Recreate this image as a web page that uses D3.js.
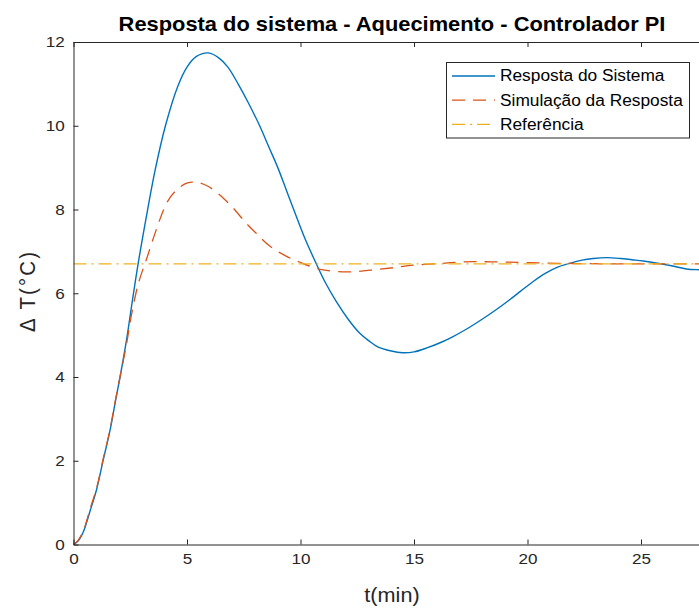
<!DOCTYPE html>
<html>
<head>
<meta charset="utf-8">
<script src="https://cdn.jsdelivr.net/npm/d3@7"></script>
<style>
  html, body { margin: 0; padding: 0; background: #fff; overflow: hidden; }
  svg { display: block; font-family: "Liberation Sans", Arial, sans-serif; }
</style>
</head>
<body>
<svg id="chart" width="699" height="608"></svg>
<script>
// Measured response (minutes, °C rise)
const tempoResposta = [0, 0.2, 0.43, 0.73, 1.02, 1.31, 1.61, 1.83, 2.05, 2.34, 2.56, 2.83, 3.25, 3.6, 4.05, 4.6, 5.0, 5.4, 5.94, 6.4, 6.8, 7.25, 7.7, 8.2, 8.6, 9.0, 9.35, 9.7, 10.2, 10.7, 11.1, 11.6, 12.1, 12.6, 13.0, 13.4, 14.0, 14.5, 15.0, 15.6, 16.2, 16.7, 17.3, 18.0, 18.6, 19.2, 19.7, 20.25, 20.8, 21.3, 21.9, 22.4, 22.9, 23.5, 24.1, 24.6, 25.1, 25.8, 26.4, 27.0, 27.6, 28.0];
const valorResposta = [0, 0.08, 0.3, 0.8, 1.32, 2.02, 2.73, 3.37, 4.0, 4.9, 5.7, 6.65, 7.95, 8.95, 10.0, 10.95, 11.4, 11.65, 11.74, 11.62, 11.4, 11.0, 10.55, 10.0, 9.5, 9.0, 8.5, 8.0, 7.3, 6.7, 6.25, 5.78, 5.38, 5.05, 4.87, 4.72, 4.62, 4.58, 4.6, 4.7, 4.83, 4.96, 5.14, 5.38, 5.6, 5.84, 6.05, 6.28, 6.48, 6.62, 6.72, 6.79, 6.83, 6.85, 6.83, 6.8, 6.77, 6.71, 6.65, 6.58, 6.56, 6.55];

// Simulated response
const tempoSimulacao = [0, 0.2, 0.43, 0.73, 1.02, 1.31, 1.61, 1.83, 2.05, 2.34, 2.56, 2.86, 3.15, 3.3, 3.59, 4.1, 4.47, 4.99, 5.43, 5.94, 6.6, 7.04, 7.63, 8.07, 8.66, 9.39, 9.98, 10.5, 11.0, 12.04, 13.06, 14.09, 14.97, 16.15, 17.17, 18.5, 20.0, 22.0, 24.0, 26.0, 28.0];
const valorSimulacao = [0, 0.1, 0.32, 0.85, 1.35, 2.05, 2.75, 3.4, 4.0, 4.8, 5.5, 6.24, 6.71, 6.95, 7.43, 8.15, 8.43, 8.63, 8.65, 8.55, 8.27, 8.03, 7.66, 7.42, 7.12, 6.88, 6.74, 6.63, 6.56, 6.51, 6.55, 6.61, 6.67, 6.71, 6.75, 6.75, 6.73, 6.71, 6.7, 6.7, 6.7];

// Set-point
const tempoReferencia = [0, 30];
const valorReferencia = [6.7, 6.7];

const xTicks = [0, 5, 10, 15, 20, 25, 30];
const xTickLabels = [0, 5, 10, 15, 20, 25];
const yTicks = [0, 2, 4, 6, 8, 10, 12];

const legendLabels = ["Resposta do Sistema", "Simulação da Resposta", "Referência"];

const axisColor = "#262626";
const stretch = 1.11; // horizontal text aspect of the figure

const svg = d3.select("#chart");

const x = d3.scaleLinear().domain([0, 30]).range([73.5, 754.5]);
const y = d3.scaleLinear().domain([0, 12]).range([544.5, 42]);

const series = [
  { t: tempoResposta, v: valorResposta, color: "#0072BD", dash: null, width: 1.4 },
  { t: tempoSimulacao, v: valorSimulacao, color: "#D95319", dash: "13,8", width: 1.3 },
  { t: tempoReferencia, v: valorReferencia, color: "#EDB120", dash: "13,5,2,5", width: 1.3 }
];

// Plot area
const plot = svg.append("g");
plot.append("rect")
  .attr("x", x(0)).attr("y", y(12))
  .attr("width", x(30) - x(0)).attr("height", y(0) - y(12))
  .attr("fill", "#fff");

const line = d3.line()
  .x(d => x(d[0]))
  .y(d => y(d[1]))
  .curve(d3.curveCatmullRom.alpha(0.5));

series.forEach(s => {
  const pts = s.t.map((t, i) => [t, s.v[i]]);
  plot.append("path")
    .datum(pts)
    .attr("fill", "none")
    .attr("stroke", s.color)
    .attr("stroke-width", s.width)
    .attr("stroke-dasharray", s.dash)
    .attr("d", line);
});

// Axes (inward ticks, box)
function styleAxis(g) {
  g.selectAll("path, line").attr("stroke", axisColor).attr("stroke-width", 1);
  g.selectAll("text")
    .attr("fill", axisColor)
    .attr("font-size", 15.4)
    .attr("font-family", "Liberation Sans, Arial, sans-serif");
}

const gx = svg.append("g")
  .attr("transform", `translate(0,${y(0)})`)
  .call(d3.axisBottom(x).tickValues(xTicks).tickSizeInner(-5).tickSizeOuter(0).tickPadding(9)
    .tickFormat(d => xTickLabels.includes(d) ? d3.format("d")(d) : ""))
  .call(styleAxis);
gx.selectAll("text").attr("transform", `scale(${stretch},1)`);

const gy = svg.append("g")
  .attr("transform", `translate(${x(0)},0)`)
  .call(d3.axisLeft(y).tickValues(yTicks).tickSizeInner(-5).tickSizeOuter(0).tickPadding(8).tickFormat(d3.format("d")))
  .call(styleAxis);
gy.selectAll("text").attr("transform", `scale(${stretch},1)`);

svg.append("g")
  .attr("transform", `translate(0,${y(12)})`)
  .call(d3.axisTop(x).tickValues(xTicks).tickSizeInner(-5).tickSizeOuter(0).tickFormat(""))
  .call(styleAxis);

svg.append("g")
  .attr("transform", `translate(${x(30)},0)`)
  .call(d3.axisRight(y).tickValues(yTicks).tickSizeInner(-5).tickSizeOuter(0).tickFormat(""))
  .call(styleAxis);

svg.selectAll(".domain").attr("fill", "none");

// Text helper with the figure's horizontal aspect
function label(px, py, txt, opts) {
  const g = svg.append("g").attr("transform", `translate(${px},${py}) ${opts.rotate ? "rotate(-90)" : ""}`);
  const t = g.append("text")
    .attr("transform", opts.rotate ? `scale(1,${stretch})` : `scale(${stretch},1)`)
    .attr("text-anchor", opts.anchor || "middle")
    .attr("font-size", opts.size)
    .attr("font-weight", opts.weight || "normal")
    .attr("fill", opts.color || axisColor)
    .attr("font-family", "Liberation Sans, Arial, sans-serif")
    .text(txt);
  if (opts.dy) t.attr("dy", opts.dy);
  if (opts.length) t.attr("textLength", opts.length).attr("lengthAdjust", "spacing");
  return t;
}

// Title and axis labels
label(392, 31.3, "Resposta do sistema - Aquecimento - Controlador PI", { size: 19.7, weight: "bold", color: "#000" });
label(392, 602, "t(min)", { size: 19.5 });
label(35, 292, "Δ T(°C)", { size: 20.5, rotate: true, length: 80 });

// Legend
const lg = svg.append("g");
lg.append("rect")
  .attr("x", 446.5).attr("y", 62.5)
  .attr("width", 243).attr("height", 75.5)
  .attr("fill", "#fff").attr("stroke", axisColor).attr("stroke-width", 1);

series.forEach((s, i) => {
  const cy = 76 + i * 24.2;
  lg.append("line")
    .attr("x1", 452).attr("x2", 495)
    .attr("y1", cy).attr("y2", cy)
    .attr("stroke", s.color)
    .attr("stroke-width", s.width)
    .attr("stroke-dasharray", s.dash);
  label(500, cy, legendLabels[i], { size: 15.6, anchor: "start", dy: "0.35em", color: "#000" });
});
</script>
</body>
</html>
